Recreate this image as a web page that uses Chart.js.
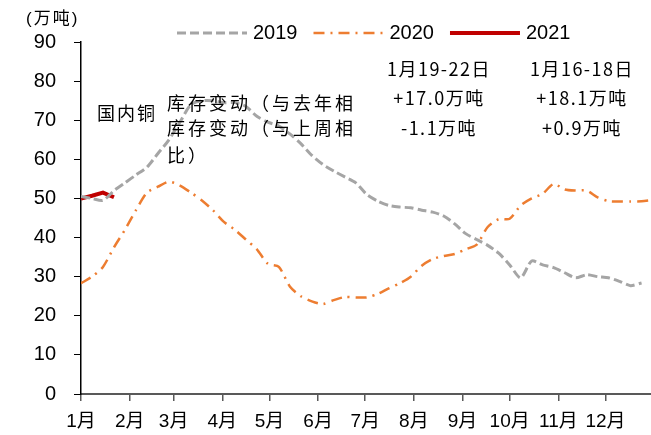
<!DOCTYPE html>
<html>
<head>
<meta charset="utf-8">
<script src="https://cdn.jsdelivr.net/npm/chart.js@4/dist/chart.umd.min.js"></script>
<style>
  html, body { margin: 0; padding: 0; background: #fff; }
  #wrap { width: 651px; height: 435px; }
</style>
</head>
<body>
<div id="wrap"><canvas id="trendChart"></canvas></div>
<script>
// month start (day of year) and labels
const monthStarts = [0, 31, 59, 90, 120, 151, 181, 212, 243, 273, 304, 334];
const monthLabels = ["1月", "2月", "3月", "4月", "5月", "6月", "7月", "8月", "9月", "10月", "11月", "12月"];
const yTicks = [0, 10, 20, 30, 40, 50, 60, 70, 80, 90];

// weekly copper inventory (万吨), one value per week from early January
const stock2019 = [50.5, 50, 49.5, 52, 54, 56, 58, 61.5, 65, 69.5, 74, 75, 75, 74.5, 74.5, 73.5, 71, 69.5, 68.5, 66.5,
  64, 61, 58.7, 57, 55.5, 54, 51, 49.3, 48.2, 47.8, 47.6, 47, 46.5, 45.5, 43.5, 41, 39.5, 38, 36, 33,
  29.7, 34, 33, 32.3, 31, 29.7, 30.5, 30, 29.7, 28.8, 27.7, 28.4];
const stock2020 = [28.3, 30, 32.5, 37.5, 42, 47, 51.5, 53, 54.3, 53.3, 51.5, 49.5, 47, 44, 42, 39.5, 37, 33.3, 32.5, 27.5,
  25, 23.7, 23, 24, 24.8, 24.7, 24.7, 25.6, 27, 28.3, 30, 32.8, 34.5, 35.3, 35.8, 37, 38.2, 42.7, 44.7, 44.8,
  48.2, 50, 51.2, 53.7, 52.3, 52, 52, 50.3, 49.3, 49.2, 49.2, 49.3, 49.6];
const stock2021 = [50, 50.7, 51.5, 50.3];

const seriesNames = ["2019", "2020", "2021"];

const latinFont = "'Liberation Sans', Arial, 'Noto Sans CJK SC', sans-serif";
const cjkFont = "'Noto Sans CJK SC', sans-serif";

function toPoints(values) {
  return values.map((v, i) => ({ x: i * 7, y: v }));
}

const overlay = {
  id: "overlay",
  afterDraw(chart) {
    const ctx = chart.ctx;
    const spacing = (v) => { if ("letterSpacing" in ctx) ctx.letterSpacing = v; };
    ctx.save();
    ctx.fillStyle = "#000";
    ctx.textBaseline = "middle";

    // unit label
    ctx.font = "17px " + latinFont;
    ctx.textAlign = "left";
    spacing("2px");
    ctx.fillText("(万吨)", 26, 19);
    spacing("0px");

    // legend
    let x = 177;
    ctx.font = "20px " + latinFont;
    chart.data.datasets.forEach((ds) => {
      ctx.strokeStyle = ds.borderColor;
      ctx.lineWidth = ds.borderWidth;
      ctx.setLineDash(ds.borderDash || []);
      ctx.beginPath();
      ctx.moveTo(x, 33);
      ctx.lineTo(x + 70, 33);
      ctx.stroke();
      ctx.setLineDash([]);
      ctx.fillText(ds.label, x + 76, 33);
      x += 76 + ctx.measureText(ds.label).width + 16;
    });

    // annotation block
    ctx.font = "18px " + cjkFont;
    spacing("2px");
    ctx.fillText("国内铜", 97, 113);
    spacing("3px");
    ctx.fillText("库存变动（与去年相", 167, 103);
    ctx.fillText("库存变动（与上周相", 167, 128);
    ctx.fillText("比）", 167, 155);

    ctx.textAlign = "center";
    spacing("1.5px");
    const left = ["1月19-22日", "+17.0万吨", "-1.1万吨"];
    const right = ["1月16-18日", "+18.1万吨", "+0.9万吨"];
    const rows = [69, 98, 128];
    left.forEach((t, i) => ctx.fillText(t, 439, rows[i]));
    right.forEach((t, i) => ctx.fillText(t, 582, rows[i]));
    ctx.restore();
  }
};

new Chart(document.getElementById("trendChart"), {
  type: "line",
  data: {
    datasets: [
      {
        label: seriesNames[0],
        data: toPoints(stock2019),
        borderColor: "#a5a5a5",
        borderWidth: 3,
        borderDash: [9, 4],
        tension: 0.25,
      },
      {
        label: seriesNames[1],
        data: toPoints(stock2020),
        borderColor: "#ed7d31",
        borderWidth: 2.5,
        borderDash: [11, 6, 2, 6],
        tension: 0.25,
      },
      {
        label: seriesNames[2],
        data: toPoints(stock2021),
        borderColor: "#c00000",
        borderWidth: 4,
        tension: 0,
      },
    ],
  },
  options: {
    responsive: true,
    maintainAspectRatio: false,
    animation: false,
    events: [],
    elements: { point: { radius: 0 } },
    layout: { padding: { top: 42, right: 0, left: 0, bottom: 0 } },
    plugins: { legend: { display: false }, tooltip: { enabled: false } },
    scales: {
      x: {
        type: "linear",
        min: 0,
        max: 363,
        afterBuildTicks: (scale) => {
          scale.ticks = monthStarts.map((v) => ({ value: v }));
        },
        afterFit: (scale) => { scale.height = 41; },
        ticks: {
          autoSkip: false,
          maxRotation: 0,
          padding: 9,
          color: "#000",
          font: { size: 19, family: latinFont },
          callback: (value) => monthLabels[monthStarts.indexOf(value)],
        },
        grid: { drawOnChartArea: false, drawTicks: true, tickLength: 7, color: "#595959", lineWidth: 1.5 },
        border: { color: "#595959", width: 2 },
      },
      y: {
        min: 0,
        max: 90,
        afterBuildTicks: (scale) => {
          scale.ticks = yTicks.map((v) => ({ value: v }));
        },
        afterFit: (scale) => { scale.width = 81; },
        ticks: {
          padding: 18,
          color: "#000",
          font: { size: 20, family: latinFont },
        },
        grid: { drawOnChartArea: false, drawTicks: true, tickLength: 7, color: "#000", lineWidth: 1 },
        border: { color: "#000", width: 1.5 },
      },
    },
  },
  plugins: [overlay],
});
</script>
</body>
</html>
